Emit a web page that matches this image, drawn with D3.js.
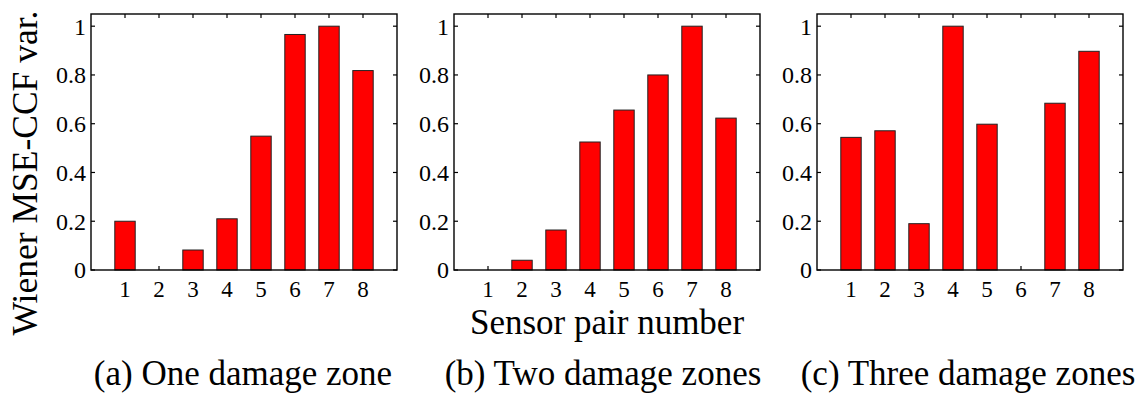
<!DOCTYPE html>
<html>
<head>
<meta charset="utf-8">
<script src="https://cdn.jsdelivr.net/npm/d3@7/dist/d3.min.js"></script>
<style>
  html, body { margin: 0; padding: 0; background: #fff; }
  svg { display: block; }
  text { font-family: "Liberation Serif", "Times New Roman", serif; fill: #000; }
</style>
</head>
<body>
<svg id="chart" width="1145" height="394"></svg>
<script>
// ---- data ----
const categories = [1, 2, 3, 4, 5, 6, 7, 8];
const oneZone   = [0.20, 0.00, 0.082, 0.21, 0.549, 0.966, 1.00, 0.818];
const twoZones  = [0.00, 0.04, 0.164, 0.525, 0.656, 0.80, 1.00, 0.623];
const threeZones = [0.544, 0.571, 0.19, 1.00, 0.598, 0.00, 0.684, 0.897];
const yTicks = [0, 0.2, 0.4, 0.6, 0.8, 1];
const yTickLabels = ["0", "0.2", "0.4", "0.6", "0.8", "1"];
const captions = ["(a) One damage zone", "(b) Two damage zones", "(c) Three damage zones"];
const yTitle = "Wiener MSE-CCF var.";
const xTitle = "Sensor pair number";

const panels = [
  { values: oneZone,   left: 91,  caption: captions[0], capX: 243 },
  { values: twoZones,  left: 454, caption: captions[1], capX: 603 },
  { values: threeZones, left: 817, caption: captions[2], capX: 968 }
];

const svg = d3.select("#chart");
const plotTop = 14, plotBottom = 270, pw = 306;
const tickLen = 4;

panels.forEach(p => {
  const x = d3.scaleLinear().domain([0, 9]).range([p.left, p.left + pw]);
  const y = d3.scaleLinear().domain([0, 1.05]).range([plotBottom, plotTop]);
  const g = svg.append("g");

  const tickStyle = sel => sel.attr("stroke", "#000").attr("stroke-width", 1.2);
  g.selectAll("line.xb").data(categories).join("line").attr("class", "xb")
    .attr("x1", d => x(d)).attr("x2", d => x(d))
    .attr("y1", plotBottom).attr("y2", plotBottom - tickLen).call(tickStyle);
  g.selectAll("line.xt").data(categories).join("line").attr("class", "xt")
    .attr("x1", d => x(d)).attr("x2", d => x(d))
    .attr("y1", plotTop).attr("y2", plotTop + tickLen).call(tickStyle);
  g.selectAll("line.yl").data(yTicks).join("line").attr("class", "yl")
    .attr("x1", p.left).attr("x2", p.left + tickLen)
    .attr("y1", d => y(d)).attr("y2", d => y(d)).call(tickStyle);
  g.selectAll("line.yr").data(yTicks).join("line").attr("class", "yr")
    .attr("x1", p.left + pw).attr("x2", p.left + pw - tickLen)
    .attr("y1", d => y(d)).attr("y2", d => y(d)).call(tickStyle);

  const bw = (x(1) - x(0)) * 0.6;
  g.selectAll("rect.bar").data(p.values).join("rect").attr("class", "bar")
    .attr("x", (d, i) => x(categories[i]) - bw / 2)
    .attr("y", d => y(d))
    .attr("width", bw)
    .attr("height", d => Math.max(0, y(0) - y(d)))
    .attr("fill", "#ff0000")
    .attr("stroke", "#222")
    .attr("stroke-width", d => d > 0 ? 1 : 0);

  g.append("rect")
    .attr("x", p.left).attr("y", plotTop).attr("width", pw).attr("height", plotBottom - plotTop)
    .attr("fill", "none").attr("stroke", "#000").attr("stroke-width", 1.4);

  g.selectAll("text.yt").data(yTicks).join("text").attr("class", "yt")
    .attr("x", p.left - 5).attr("y", d => y(d)).attr("dy", "0.35em")
    .attr("text-anchor", "end").attr("font-size", 24)
    .text((d, i) => yTickLabels[i]);

  g.selectAll("text.xtl").data(categories).join("text").attr("class", "xtl")
    .attr("x", d => x(d)).attr("y", 297)
    .attr("text-anchor", "middle").attr("font-size", 23)
    .text(d => d);

  g.append("text").attr("x", p.capX).attr("y", 385)
    .attr("text-anchor", "middle").attr("font-size", 35)
    .text(p.caption);
});

svg.append("text")
  .attr("transform", "translate(37,173) rotate(-90)")
  .attr("text-anchor", "middle").attr("font-size", 35.5)
  .text(yTitle);

svg.append("text").attr("x", 607).attr("y", 334)
  .attr("text-anchor", "middle").attr("font-size", 35)
  .text(xTitle);
</script>
</body>
</html>
